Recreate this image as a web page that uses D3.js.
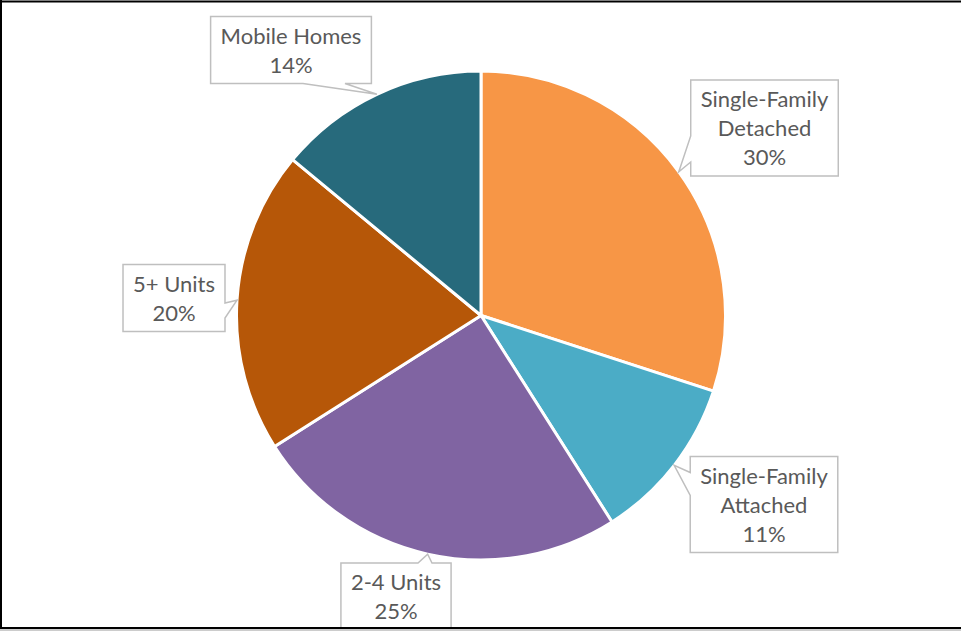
<!DOCTYPE html>
<html>
<head>
<meta charset="utf-8">
<script src="https://cdn.jsdelivr.net/npm/d3@7"></script>
<style>
  html, body { margin: 0; padding: 0; background: #fff; }
  svg { display: block; }
  .lbl text { font-family: Lato, "Open Sans", sans-serif; font-size: 22px; fill: #595959; }
</style>
</head>
<body>
<svg id="chart" width="961" height="631"></svg>
<script>
// Housing stock by structure type (share of units, %)
const categories = ["Single-Family Detached", "Single-Family Attached", "2-4 Units", "5+ Units", "Mobile Homes"];
const labelLines = [["Single-Family", "Detached"], ["Single-Family", "Attached"], ["2-4 Units"], ["5+ Units"], ["Mobile Homes"]];
const shares = [30, 11, 25, 20, 14];
const colors = ["#F79646", "#4BACC6", "#8064A2", "#B65708", "#276A7C"];

// Callout placement: box centre and where the pointer leaves the box
const calloutLayout = [
  { cx: 764.5, cy: 128,   side: "left",   a: 8,   b: 34 },
  { cx: 764,   cy: 504.5, side: "left",   a: -32, b: -9 },
  { cx: 396,   cy: 596.5, side: "top",    a: 22,  b: 36 },
  { cx: 174,   cy: 298,   side: "right",  a: 5,   b: 20 },
  { cx: 291,   cy: 50,    side: "bottom", a: 12,  b: 54 }
];

const W = 961, H = 631;
const cx = 481, cy = 315.5, R = 244.5;
const lineH = 29, padX = 10, padY = 4.5;

const svg = d3.select("#chart");

svg.append("defs").append("clipPath").attr("id", "plotClip")
  .append("rect").attr("x", 2).attr("y", 2.5).attr("width", W).attr("height", 624.5);

const root = svg.append("g").attr("clip-path", "url(#plotClip)");

const data = categories.map((c, i) => ({ name: c, lines: labelLines[i], value: shares[i], color: colors[i], layout: calloutLayout[i] }));

const pie = d3.pie().sort(null).value(d => d.value).startAngle(0).endAngle(2 * Math.PI);
const arcs = pie(data);
const arc = d3.arc().innerRadius(0).outerRadius(R);

const pieG = root.append("g").attr("transform", `translate(${cx},${cy})`);
pieG.selectAll("path").data(arcs).join("path")
  .attr("d", arc)
  .attr("fill", d => d.data.color)
  .attr("stroke", "#fff")
  .attr("stroke-width", 3)
  .attr("stroke-linejoin", "round");

// Callouts
const lblG = root.append("g").attr("class", "lbl");
arcs.forEach(a => {
  const d = a.data, L = d.layout;
  const lines = d.lines.concat([d.value + "%"]);
  const g = lblG.append("g");
  const n = lines.length;
  const texts = lines.map((t, i) => g.append("text")
    .attr("x", L.cx)
    .attr("y", L.cy + (i - (n - 1) / 2) * lineH + 8)
    .attr("text-anchor", "middle")
    .text(t));
  const tw = d3.max(texts, t => t.node().getComputedTextLength());
  const bw = tw + 2 * padX, bh = n * lineH + 2 * padY;
  const x0 = L.cx - bw / 2, x1 = L.cx + bw / 2, y0 = L.cy - bh / 2, y1 = L.cy + bh / 2;

  // pointer tip on the rim at the slice's middle angle
  const mid = (a.startAngle + a.endAngle) / 2;
  const tx = cx + R * Math.sin(mid), ty = cy - R * Math.cos(mid);

  const p = d3.path();
  p.moveTo(x0, y0);
  if (L.side === "top") { p.lineTo(L.cx + L.a, y0); p.lineTo(tx, ty); p.lineTo(L.cx + L.b, y0); }
  p.lineTo(x1, y0);
  if (L.side === "right") { p.lineTo(x1, L.cy + L.a); p.lineTo(tx, ty); p.lineTo(x1, L.cy + L.b); }
  p.lineTo(x1, y1);
  if (L.side === "bottom") { p.lineTo(L.cx + L.b, y1); p.lineTo(tx, ty); p.lineTo(L.cx + L.a, y1); }
  p.lineTo(x0, y1);
  if (L.side === "left") { p.lineTo(x0, L.cy + L.b); p.lineTo(tx, ty); p.lineTo(x0, L.cy + L.a); }
  p.closePath();

  g.insert("path", "text")
    .attr("d", p.toString())
    .attr("fill", "#fff")
    .attr("stroke", "#BFBFBF")
    .attr("stroke-width", 1.5)
    .attr("stroke-linejoin", "miter");
});

// Frame
svg.append("line").attr("x1", 0).attr("x2", W).attr("y1", 1.5).attr("y2", 1.5).attr("stroke", "#000").attr("stroke-width", 2);
svg.append("line").attr("x1", 1).attr("x2", 1).attr("y1", 0).attr("y2", 629).attr("stroke", "#000").attr("stroke-width", 2);
svg.append("line").attr("x1", 0).attr("x2", W).attr("y1", 628).attr("y2", 628).attr("stroke", "#000").attr("stroke-width", 2);
svg.append("line").attr("x1", 0).attr("x2", W).attr("y1", 630).attr("y2", 630).attr("stroke", "#9a9a9a").attr("stroke-width", 1);
</script>
</body>
</html>
